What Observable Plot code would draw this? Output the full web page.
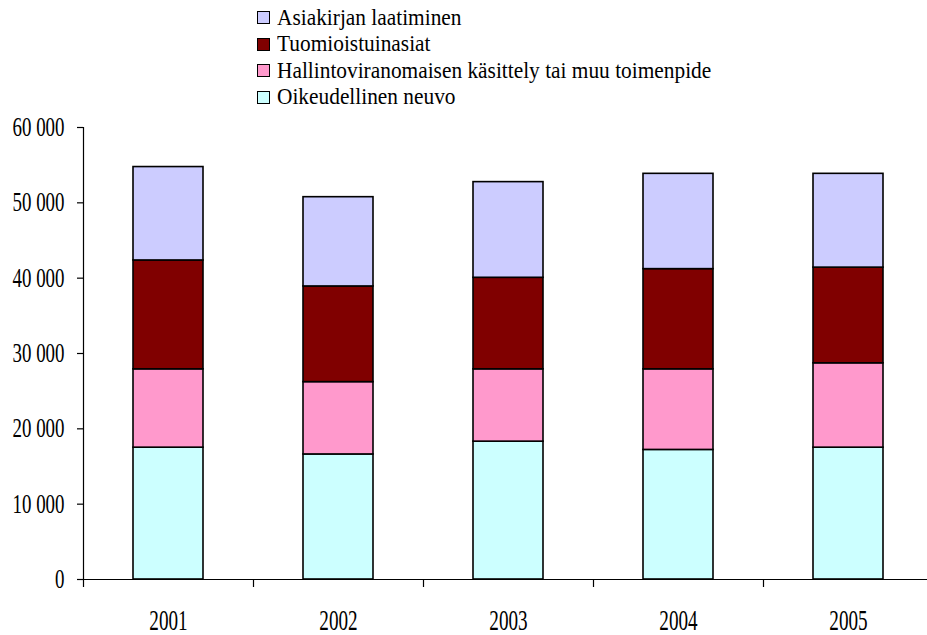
<!DOCTYPE html>
<html><head><meta charset="utf-8">
<script src="https://cdn.jsdelivr.net/npm/d3@7"></script>
<script src="https://cdn.jsdelivr.net/npm/@observablehq/plot@0.6"></script>
<style>
body{margin:0;background:#fff;color:#000;}
#legend{position:relative;height:112px;}
.sw{position:absolute;left:257px;width:11px;height:11px;border:1.5px solid #000;}
.lt{position:absolute;left:277px;font-size:24px;line-height:26.6px;white-space:nowrap;transform-origin:0 50%;transform:scaleX(0.89);}
</style></head><body>
<div id="legend"></div><div id="chart"></div>
<script>
const years = ["2001","2002","2003","2004","2005"];
const series = ["Oikeudellinen neuvo","Hallintoviranomaisen käsittely tai muu toimenpide","Tuomioistuinasiat","Asiakirjan laatiminen"];
const colors = ["#CCFFFF","#FF99CC","#800000","#CCCCFF"];
const neuvo = [17500,16600,18300,17200,17500];
const hallinto = [10400,9600,9600,10700,11200];
const tuomio = [14450,12700,12150,13300,12700];
const asiakirja = [12400,11850,12700,12650,12450];
const yTicks = [0,10000,20000,30000,40000,50000,60000];

const FONT = "Liberation Serif";
const valuesBySeries = [neuvo, hallinto, tuomio, asiakirja];
const data = [];
years.forEach((yr, i) => series.forEach((s, j) => data.push({year: yr, series: s, value: valuesBySeries[j][i]})));

// legend (top-to-bottom = reverse of stack order)
const legend = document.getElementById("legend");
series.slice().reverse().forEach((s, i) => {
  const c = colors[series.indexOf(s)];
  const top = 3.6 + i * 26.6;
  const sw = document.createElement("div"); sw.className = "sw";
  sw.style.top = (top + 7.6) + "px"; sw.style.background = c;
  const t = document.createElement("div"); t.className = "lt";
  t.style.top = top + "px"; t.style.fontFamily = FONT; t.textContent = s;
  legend.appendChild(sw); legend.appendChild(t);
});

const fmt = d3.formatLocale({thousands: "\u00a0", grouping: [3], decimal: ","}).format(",");
const width = 927, height = 523, marginLeft = 83, marginRight = -6;
const step = (width - marginLeft - marginRight) / years.length;

const chart = Plot.plot({
  width, height, marginLeft, marginRight, marginTop: 15, marginBottom: 56,
  style: {fontSize: "28px", fontFamily: FONT, color: "#000", background: "#fff", overflow: "visible"},
  x: {domain: years, paddingInner: 0.588, paddingOuter: 0.294, label: null},
  y: {domain: [0, 60000], label: null},
  color: {domain: series, range: colors},
  marks: [
    Plot.barY(data, {x: "year", y: "value", fill: "series", stroke: "#000", strokeWidth: 1.6}),
    Plot.ruleY([0], {stroke: "#000", strokeWidth: 1.2}),
    Plot.ruleX([years[0]], {y1: 0, y2: 60000, dx: -step/2, stroke: "#000", strokeWidth: 1.2}),
    Plot.axisY({ticks: yTicks, tickFormat: fmt, tickSize: 6, tickPadding: 13, label: null, strokeWidth: 1.2, fontSize: 27, fontFamily: FONT}),
    Plot.axisX(years, {tickSize: 8, dx: -step/2, tickFormat: () => "", label: null, strokeWidth: 1.2}),
    Plot.axisX({tickSize: 0, tickPadding: 30, label: null, fontSize: 29, fontFamily: FONT})
  ]
});
document.getElementById("chart").appendChild(chart);
chart.querySelectorAll("text").forEach(t => t.setAttribute("font-family", FONT));

// horizontally condensed lettering as in the reference
function condense(selector, s) {
  chart.querySelectorAll(selector).forEach(t => {
    t.style.fontFamily = FONT;
    const w = t.getComputedTextLength();
    if (w > 0) { t.setAttribute("textLength", w * s); t.setAttribute("lengthAdjust", "spacingAndGlyphs"); }
  });
}
condense('g[aria-label="y-axis tick label"] text', 0.7);
condense('g[aria-label="x-axis tick label"] text', 0.66);
</script>
</body></html>
